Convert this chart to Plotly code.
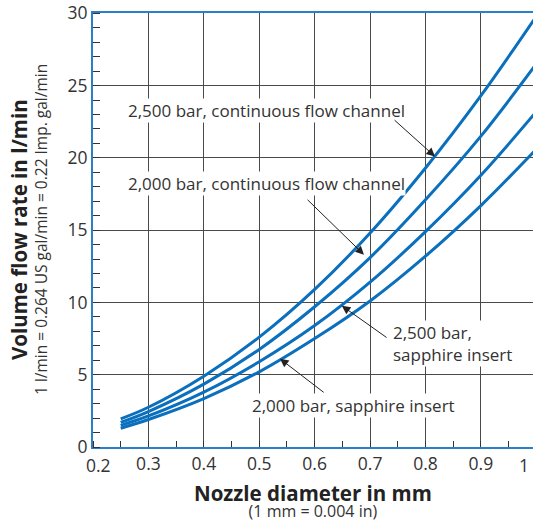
import plotly.graph_objects as go

# Nozzle diameter (mm)
diameter = [0.25, 0.3, 0.4, 0.5, 0.6, 0.7, 0.8, 0.9, 1.0]
# Volume flow rate (l/min)
flow_2500_cont = [1.95, 2.75, 4.9, 7.6, 10.9, 14.8, 19.3, 24.3, 29.8]
flow_2000_cont = [1.7, 2.45, 4.35, 6.75, 9.7, 13.1, 17.1, 21.5, 26.5]
flow_2500_sapph = [1.5, 2.15, 3.8, 5.9, 8.4, 11.4, 14.9, 18.8, 23.2]
flow_2000_sapph = [1.3, 1.9, 3.35, 5.2, 7.5, 10.1, 13.2, 16.7, 20.6]

x_ticks = [0.3, 0.4, 0.5, 0.6, 0.7, 0.8, 0.9]
x_tick_labels = ["0.3", "0.4", "0.5", "0.6", "0.7", "0.8", "0.9"]
y_ticks = [0, 5, 10, 15, 20, 25, 30]

labels = [
    "2,500 bar, continuous flow channel",
    "2,000 bar, continuous flow channel",
    "2,500 bar,<br>sapphire insert",
    "2,000 bar, sapphire insert",
]

BLUE = "#0a6fbd"
AXIS_BLUE = "#2a7fc6"
TEXT = "#333333"
GRID = "#4a4a4a"
FONT = "Open Sans"
TICK_SIZE = 17.5

fig = go.Figure()
for ys in [flow_2500_cont, flow_2000_cont, flow_2500_sapph, flow_2000_sapph]:
    fig.add_trace(go.Scatter(x=diameter, y=ys, mode="lines",
                             line=dict(color=BLUE, width=3, shape="spline"),
                             hoverinfo="skip", showlegend=False))

fig.update_layout(
    width=533, height=521,
    margin=dict(l=93, r=0, t=11, b=74),
    paper_bgcolor="white", plot_bgcolor="white",
    font=dict(family=FONT, color=TEXT, size=16),
)
fig.update_xaxes(
    range=[0.2, 0.994], tickvals=x_ticks, ticktext=x_tick_labels,
    showgrid=True, gridcolor=GRID, gridwidth=1.2,
    showline=True, linecolor=AXIS_BLUE, linewidth=2, mirror=True,
    ticks="", zeroline=False,
    minor=dict(dtick=0.05, tick0=0.2, ticks="inside", ticklen=6, tickcolor=TEXT, tickwidth=1, showgrid=False),
    tickfont=dict(size=TICK_SIZE, color=TEXT),
)
fig.update_yaxes(
    range=[0, 30.02], tickvals=y_ticks, ticklabeloverflow="allow",
    showgrid=True, gridcolor=GRID, gridwidth=1.2,
    showline=True, linecolor=AXIS_BLUE, linewidth=2,
    ticks="", zeroline=False,
    minor=dict(dtick=1, ticks="inside", ticklen=7, tickcolor=TEXT, tickwidth=1, showgrid=False),
    tickfont=dict(size=TICK_SIZE, color=TEXT),
)

# Curve labels (white background)
text_pos = [(0.2615, 23.3), (0.2615, 18.2), (0.739, 7.15), (0.486, 2.9)]
for (tx, ty), lab in zip(text_pos, labels):
    fig.add_annotation(x=tx, y=ty, text=lab, showarrow=False, xanchor="left", yanchor="middle",
                       align="left", bgcolor="white", font=dict(size=17, color=TEXT), borderpad=0)

# Arrows (tip, tail)
arrows = [((0.817, 20.1), (0.7415, 22.7)),
          ((0.689, 13.3), (0.5845, 17.2)),
          ((0.649, 9.77), (0.7325, 7.5)),
          ((0.5375, 6.1), (0.619, 3.7))]
for (hx, hy), (tx, ty) in arrows:
    fig.add_annotation(x=hx, y=hy, ax=tx, ay=ty, axref="x", ayref="y", xref="x", yref="y",
                       text="", showarrow=True, arrowhead=2, arrowsize=1.7, arrowwidth=1,
                       arrowcolor="#222222", standoff=0)

# End tick labels placed like the reference (0.2 nudged right, 1 at clipped edge)
fig.add_annotation(xref="x", yref="paper", x=0.2, y=0, text="0.2", showarrow=False,
                   xanchor="center", yanchor="top", yshift=-4, xshift=5, font=dict(size=TICK_SIZE, color=TEXT))
fig.add_annotation(xref="paper", yref="paper", x=1, y=0, text="1", showarrow=False,
                   xanchor="right", yanchor="top", yshift=-4, xshift=-2, font=dict(size=TICK_SIZE, color=TEXT))

# Axis titles
fig.add_annotation(xref="paper", yref="paper", x=0.5, y=0,
                   text="<span style='font-size:20.5px;font-weight:bold;fill:#222222'>Nozzle diameter in mm</span>"
                        "<br><span style='font-size:16px'>(1 mm = 0.004 in)</span>",
                   showarrow=False, xanchor="center", yanchor="middle", yshift=-53, borderpad=0,
                   font=dict(size=12.5, color=TEXT))
fig.add_annotation(xref="paper", yref="paper", x=0, y=0.5, text="<b>Volume flow rate in l/min</b>",
                   showarrow=False, xanchor="center", yanchor="middle", xshift=-74, textangle=-90,
                   font=dict(size=20.5, color="#222222"))
fig.add_annotation(xref="paper", yref="paper", x=0, y=0.5,
                   text="1 l/min = 0.264 US gal/min = 0.22 Imp. gal/min",
                   showarrow=False, xanchor="center", yanchor="middle", xshift=-52, textangle=-90,
                   font=dict(size=15.5, color=TEXT))

fig.write_html("out.html")
